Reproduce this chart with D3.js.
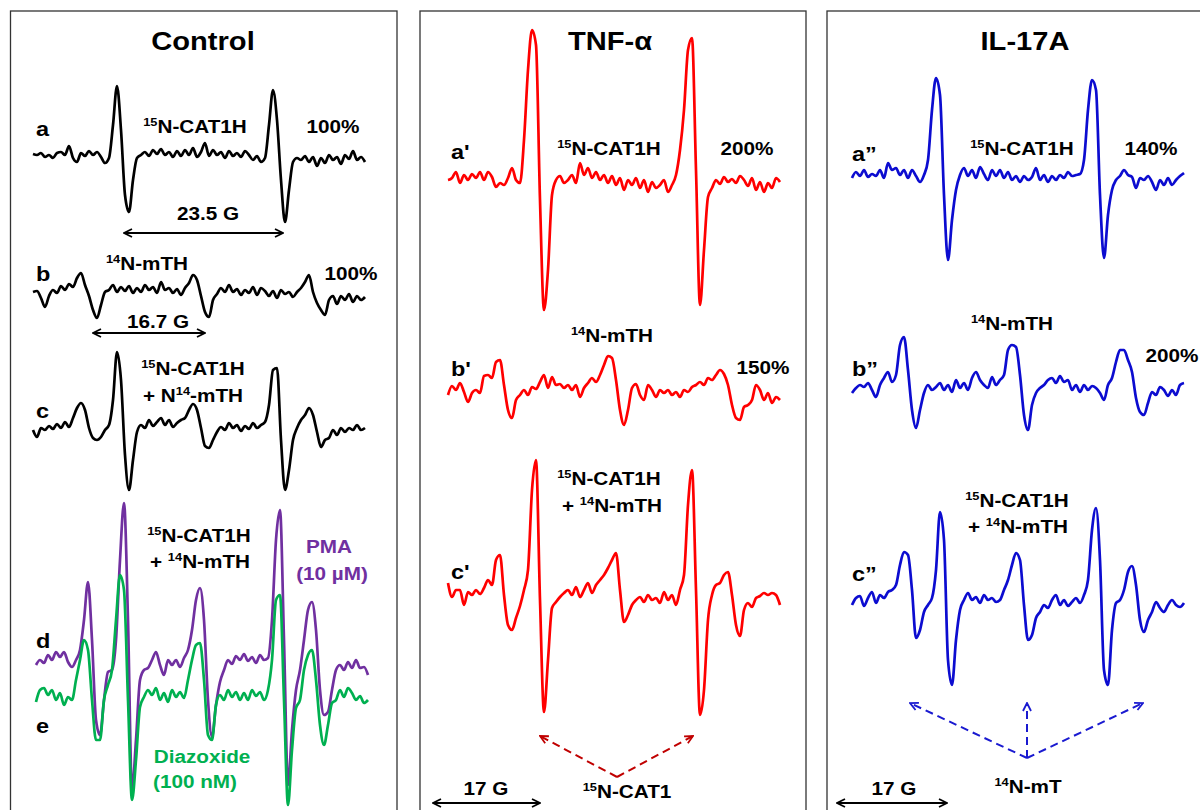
<!DOCTYPE html>
<html>
<head>
<meta charset="utf-8">
<script src="https://cdn.jsdelivr.net/npm/d3@7"></script>
<style>
  body { margin: 0; background: #fff; }
  svg { display: block; }
  text { font-family: "Liberation Sans", Arial, sans-serif; font-weight: bold; }
</style>
</head>
<body>
<div id="fig"></div>
<script>
// EPR spectra, signal (a.u.), 84 field points per sweep
var traceA = [1,0,2,-2,0,-3,2,3,0,9, -3,-7,2,-1,4,0,3,-2,-8,-3, 30,69,25,-40,-57,-25,-3,0,3,-1,
  5,1,6,0,3,-2,4,-1,5,0, 7,-2,3,12,-1,5,0,3,-3,4, -1,2,-2,4,0,-5,-1,-7,-3,30,
  65,35,-25,-67,-35,-7,-3,-5,-1,-7, -2,-11,-3,-8,0,-5,-2,-9,0,-4, 4,-5,-2,-7];
var traceB = [0,1,-6,-15,-4,2,-1,6,2,8, 5,14,19,7,-4,-18,-26,-13,0,2, 7,0,5,1,6,-1,4,0,7,2,
  5,-1,10,2,4,-1,3,-3,4,9, 17,12,-4,-20,-25,-8,-2,4,0,7, 0,3,-3,2,-1,5,-3,4,1,-4,
  1,-6,2,-2,0,-5,0,4,10,17, 0,-11,-18,-23,-8,-4,-12,-4,-8,-2, -10,-4,-8,-5];
var traceC = [0,-7,2,0,4,1,6,2,8,3, 12,22,27,20,2,-8,-10,-7,0,5, 30,78,50,-25,-60,-30,-2,5,2,10,
  4,8,12,5,10,3,7,10,12,20, 26,20,2,-16,-18,-10,-2,3,0,7, 2,5,-1,4,1,7,2,5,8,25,
  60,62,-10,-60,-40,-10,2,10,15,22, 15,-2,-17,-10,-8,0,-5,2,-2,2, 0,5,0,2];
var traceD = [-3,2,-1,7,2,10,5,10,0,-5, 2,12,42,80,22,-58,-73,-38,-10,-8, 22,102,159,42,-128,-78,-18,-8,-6,2,
  10,-3,-13,2,-3,2,-5,4,12,32, 62,74,42,-38,-75,-43,-20,-8,2,-2, 6,2,8,1,5,-1,7,2,4,42,
  122,152,22,-123,-68,-28,-8,22,52,60, 32,-28,-53,-50,-28,-8,-3,-8,0,-6, 2,-6,-5,-13];
var traceE = [-5,7,9,2,7,-3,4,-8,0,-3, 17,37,57,47,-3,-43,-43,-3,12,27, 77,122,107,-3,-103,-63,-10,0,7,2,
  9,-3,4,-5,7,0,5,-1,17,37, 52,54,17,-38,-43,-8,2,-3,7,0, 5,-3,4,-3,7,1,5,-3,7,37,
  97,102,-3,-108,-53,-11,-3,27,42,47, 17,-28,-48,-28,-6,-3,7,0,9,4, -3,1,-6,-3];

var tnfA = [0,2,8,-3,5,0,6,2,8,0, 8,3,-7,-3,-5,2,12,0,-3,40, 110,150,135,-20,-130,-90,-15,0,4,-3,
  0,5,-3,17,5,12,2,8,0,5, -3,4,-5,2,-10,0,-5,2,-8,0, -12,-2,-8,-5,0,-12,-5,5,30,70,
  130,142,10,-125,-70,-17,-8,0,-4,3, -2,1,-3,4,0,-6,2,-10,-2,-12, -3,-8,2,-2];
var tnfB = [-2,7,3,10,1,-9,0,3,0,17, 18,15,31,33,8,-17,-25,-7,-2,3, -2,6,4,11,18,5,16,8,9,5,
  8,3,8,-4,5,10,15,11,18,28, 37,35,13,-17,-32,-17,5,9,-2,-7, 8,3,-4,3,0,3,-2,1,-4,3,
  1,6,8,11,8,15,13,18,23,19, 8,-12,-25,-27,-14,-12,-7,8,3,-7, 0,-10,-4,-7];
var tnfC = [10,-4,3,3,-12,1,-2,3,-1,5, 13,8,33,38,-2,-32,-37,-25,-13,3, 23,103,133,-7,-119,-67,-15,-9,-4,0,
  3,-2,6,-4,3,10,0,8,13,18, 25,33,40,3,-29,-22,-12,-7,-4,-9, -2,-7,-5,-10,1,-7,-2,-12,3,18,
  88,123,3,-122,-97,-27,-2,8,10,18, 21,-2,-32,-43,-17,-10,-14,-5,-3,0, -2,0,-2,-12];

var il17A = [-3,3,-1,5,-2,1,-1,5,-3,12, 5,7,0,5,-3,5,-1,-7,0,15, 65,97,80,-20,-85,-45,-15,0,7,-1,
  5,-3,8,1,-5,5,-1,5,-3,3, -5,-1,-7,-1,-5,-2,7,-5,0,-7, -1,-5,0,-3,3,-1,0,1,15,65,
  95,85,-20,-83,-40,-15,-5,-1,5,0, -2,-13,-3,-5,-1,-7,-15,-5,-10,-3, -10,-5,-1,2];
var il17B = [-3,2,5,3,7,0,-7,5,12,18, 8,15,45,53,20,-20,-38,-20,-3,5, 0,3,7,0,5,-2,10,2,7,0,
  12,18,10,5,2,13,5,10,15,40, 45,43,15,-25,-40,-15,-3,2,5,10, 12,7,14,8,10,0,5,-2,5,0,
  4,2,-3,-10,5,12,28,40,40,30, 18,-8,-22,-25,-13,-2,-5,3,0,-6, 0,-5,5,7];
var il17C = [-2,5,7,-3,5,11,0,8,5,11, 13,18,38,51,48,13,-35,-27,-9,-2, 5,33,91,63,-57,-82,-37,-7,3,10,
  3,6,0,8,3,5,1,3,13,23, 38,50,43,-2,-37,-32,-15,-9,-2,-5, 3,8,-2,3,-3,1,5,0,8,23,
  73,95,43,-67,-82,-27,0,3,13,31, 37,18,-17,-29,-17,-9,1,-5,-9,-2, 3,-2,-4,0];

var panelTitles = ["Control", "TNF-\u03b1", "IL-17A"];
var traceLetters = [["a", "b", "c", "d", "e"], ["a'", "b'", "c'"], ["a\u201d", "b\u201d", "c\u201d"]];
var percents = [["100%", "100%"], ["200%", "150%"], ["140%", "200%"]];
var scaleLabels = ["23.5 G", "16.7 G", "17 G"];

var W = 1200, H = 810;
var svg = d3.select("#fig").append("svg").attr("width", W).attr("height", H);

// open chevron arrow heads
var defs = svg.append("defs");
[["blk", "#000"], ["red", "#c00000"], ["blu", "#1a1ad0"]].forEach(function(m) {
  defs.append("marker")
    .attr("id", "arr-" + m[0])
    .attr("viewBox", "0 0 10 10")
    .attr("refX", 9).attr("refY", 5)
    .attr("markerWidth", 10).attr("markerHeight", 10)
    .attr("markerUnits", "userSpaceOnUse")
    .attr("orient", "auto-start-reverse")
    .append("path")
    .attr("d", "M1,1 L9,5 L1,9")
    .attr("fill", "none")
    .attr("stroke", m[1])
    .attr("stroke-width", 1.8);
});

// panel frames
[[10.5, 397], [420, 806], [827, 1215]].forEach(function(p) {
  svg.append("rect")
    .attr("x", p[0]).attr("y", 11)
    .attr("width", p[1] - p[0]).attr("height", 840)
    .attr("fill", "none").attr("stroke", "#333").attr("stroke-width", 1.3);
});

// spectra
var traces = [
  { data: traceA, x0: 33,  base: 155, color: "#000" },
  { data: traceB, x0: 33,  base: 292, color: "#000" },
  { data: traceC, x0: 33,  base: 430, color: "#000" },
  { data: traceD, x0: 36,  base: 662, color: "#7030a0" },
  { data: traceE, x0: 36,  base: 697, color: "#00b050" },
  { data: tnfA,   x0: 448, base: 180, color: "#ff0000" },
  { data: tnfB,   x0: 448, base: 393, color: "#ff0000" },
  { data: tnfC,   x0: 448, base: 593, color: "#ff0000" },
  { data: il17A,  x0: 852, base: 175, color: "#0c0cd0" },
  { data: il17B,  x0: 852, base: 390, color: "#0c0cd0" },
  { data: il17C,  x0: 852, base: 603, color: "#0c0cd0" }
];

traces.forEach(function(t) {
  var x = d3.scaleLinear().domain([0, t.data.length - 1]).range([t.x0, t.x0 + 332]);
  var y = d3.scaleLinear().domain([-200, 200]).range([t.base + 200, t.base - 200]);
  var line = d3.line()
    .x(function(d, i) { return x(i); })
    .y(function(d) { return y(d); })
    .curve(d3.curveMonotoneX);
  svg.append("path")
    .datum(t.data)
    .attr("d", line)
    .attr("fill", "none")
    .attr("stroke", t.color)
    .attr("stroke-width", 2.7)
    .attr("stroke-linejoin", "round");
});

// text with {nn} as superscript, slightly widened like the original
function label(x, y, str, size, color, anchor) {
  var g = svg.append("g").attr("transform", "translate(" + x + "," + y + ") scale(1.12,1)");
  var t = g.append("text")
    .attr("text-anchor", anchor || "middle")
    .attr("font-size", size)
    .attr("fill", color || "#000");
  var parts = str.split(/\{(\d+)\}/);
  var sup = false;
  parts.forEach(function(p, i) {
    if (p === "") return;
    if (i % 2 === 1) {
      t.append("tspan").attr("font-size", size * 0.62).attr("dy", -size * 0.38).text(p);
      sup = true;
    } else {
      var s = t.append("tspan").text(p);
      if (sup) { s.attr("dy", size * 0.38); sup = false; }
    }
  });
}

var L = 18.5, LT = 21;
// titles
label(203, 50, panelTitles[0], 26);
label(610, 50, panelTitles[1], 26);
label(1025, 50, panelTitles[2], 26);

// control panel
label(36, 136, traceLetters[0][0], LT, "#000", "start");
label(36, 281, traceLetters[0][1], LT, "#000", "start");
label(36, 418, traceLetters[0][2], LT, "#000", "start");
label(36, 648, traceLetters[0][3], LT, "#000", "start");
label(36, 733, traceLetters[0][4], LT, "#000", "start");
label(195, 133, "{15}N-CAT1H", L);
label(333, 133, percents[0][0], L);
label(208, 220, scaleLabels[0], L);
label(147, 270, "{14}N-mTH", L);
label(351, 280, percents[0][1], L);
label(158, 328, scaleLabels[1], L);
label(193, 375, "{15}N-CAT1H", L);
label(193, 402, "+ N{14}-mTH", L);
label(199, 542, "{15}N-CAT1H", L);
label(200, 568, "+ {14}N-mTH", L);
label(329, 553, "PMA", L, "#7030a0");
label(332, 580, "(10 \u00b5M)", L, "#7030a0");
label(202, 763, "Diazoxide", L, "#00b050");
label(195, 788, "(100 nM)", L, "#00b050");

// TNF panel
label(451, 159, traceLetters[1][0], LT, "#000", "start");
label(451, 376, traceLetters[1][1], LT, "#000", "start");
label(451, 579, traceLetters[1][2], LT, "#000", "start");
label(609, 155, "{15}N-CAT1H", L);
label(747, 155, percents[1][0], L);
label(612, 342, "{14}N-mTH", L);
label(763, 374, percents[1][1], L);
label(609, 485, "{15}N-CAT1H", L);
label(612, 512, "+ {14}N-mTH", L);
label(627, 798, "{15}N-CAT1", L);
label(486, 795, scaleLabels[2], L);

// IL-17A panel
label(852, 161, traceLetters[2][0], LT, "#000", "start");
label(852, 376, traceLetters[2][1], LT, "#000", "start");
label(852, 581, traceLetters[2][2], LT, "#000", "start");
label(1022, 155, "{15}N-CAT1H", L);
label(1151, 155, percents[2][0], L);
label(1012, 330, "{14}N-mTH", L);
label(1172, 362, percents[2][1], L);
label(1017, 507, "{15}N-CAT1H", L);
label(1018, 533, "+ {14}N-mTH", L);
label(1028, 793, "{14}N-mT", L);
label(894, 795, scaleLabels[2], L);

// field markers and peak pointers
function arrow(x1, y1, x2, y2, color, id, dashed, both) {
  var l = svg.append("line")
    .attr("x1", x1).attr("y1", y1).attr("x2", x2).attr("y2", y2)
    .attr("stroke", color).attr("stroke-width", 2)
    .attr("marker-end", "url(#arr-" + id + ")");
  if (both) l.attr("marker-start", "url(#arr-" + id + ")");
  if (dashed) l.attr("stroke-dasharray", "8,5");
}
arrow(124, 233, 283, 233, "#000", "blk", false, true);
arrow(93, 333, 205, 333, "#000", "blk", false, true);
arrow(433, 803, 540, 803, "#000", "blk", false, true);
arrow(837, 803, 947, 803, "#000", "blk", false, true);

arrow(617, 777, 540, 736, "#c00000", "red", true, false);
arrow(617, 777, 693, 736, "#c00000", "red", true, false);
arrow(1027, 758, 910, 703, "#1a1ad0", "blu", true, false);
arrow(1027, 758, 1027, 703, "#1a1ad0", "blu", true, false);
arrow(1027, 758, 1143, 703, "#1a1ad0", "blu", true, false);
</script>
</body>
</html>
